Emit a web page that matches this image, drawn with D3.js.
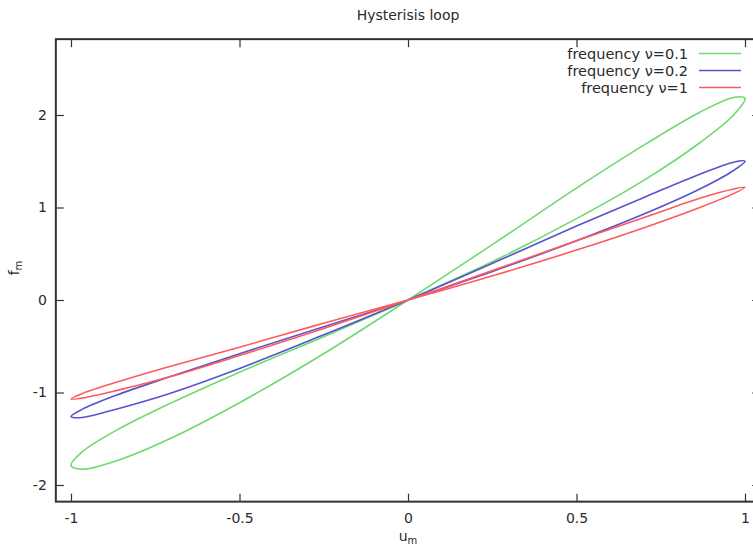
<!DOCTYPE html>
<html>
<head>
<meta charset="utf-8">
<script src="https://cdn.jsdelivr.net/npm/d3@7"></script>
<style>
  html, body { margin: 0; padding: 0; background: #fff; }
  svg { display: block; }
  text { font-family: "DejaVu Sans", sans-serif; fill: #2a2a2a; }
</style>
</head>
<body>
<svg id="chart" width="753" height="552"></svg>
<script>
// ---- data ----
const seriesNames = ["frequency \u03bd=0.1", "frequency \u03bd=0.2", "frequency \u03bd=1"];
const seriesColors = ["#6fd96f", "#5555cc", "#ff5a5a"];

// displacement u_m (shared by the three loops, walking around each loop)
const uValues = [0, 0.259, 0.5, 0.707, 0.866, 0.966, 1, 0.966, 0.866, 0.707, 0.5, 0.259,
                 0, -0.259, -0.5, -0.707, -0.866, -0.966, -1, -0.966, -0.866, -0.707, -0.5, -0.259];
// force f_m for each loop
const fNu01 = [0, 0.62, 1.21, 1.69, 2.03, 2.19, 2.18, 2.00, 1.70, 1.31, 0.88, 0.43,
               0, -0.41, -0.78, -1.12, -1.41, -1.64, -1.79, -1.83, -1.74, -1.50, -1.11, -0.60];
const fNu02 = [0, 0.41, 0.80, 1.12, 1.36, 1.49, 1.50, 1.40, 1.20, 0.94, 0.64, 0.32,
               0, -0.30, -0.58, -0.83, -1.03, -1.18, -1.26, -1.27, -1.18, -1.01, -0.74, -0.39];
const fNu1  = [0, 0.33, 0.64, 0.90, 1.10, 1.20, 1.22, 1.15, 1.00, 0.79, 0.54, 0.27,
               0, -0.26, -0.51, -0.72, -0.89, -1.01, -1.07, -1.06, -0.98, -0.83, -0.60, -0.32];

const xTicks = [-1, -0.5, 0, 0.5, 1];
const yTicks = [-2, -1, 0, 1, 2];
const xRange = [-1.045, 1.045];
const yRange = [-2.18, 2.82];
const title = "Hysterisis loop";

// ---- drawing ----
const svg = d3.select("#chart");
const x = d3.scaleLinear().domain([-1, 1]).range([71, 745]);
const y = d3.scaleLinear().domain([-2, 2]).range([485, 115]);

const pLeft = x(xRange[0]), pRight = x(xRange[1]);
const pTop = y(yRange[1]), pBottom = y(yRange[0]);

// title
svg.append("text").attr("x", 408).attr("y", 19.5).attr("text-anchor", "middle")
  .style("font-size", "14px").text(title);

// curves
const series = [fNu01, fNu02, fNu1];
const line = d3.line().x(d => x(d[0])).y(d => y(d[1])).curve(d3.curveCatmullRomClosed.alpha(0.5));
series.forEach((fs, i) => {
  const pts = uValues.map((u, j) => [u, fs[j]]);
  svg.append("path").attr("d", line(pts)).attr("fill", "none")
    .attr("stroke", seriesColors[i]).attr("stroke-width", 1.6);
});

// axes (ticks inward, gnuplot style)
const fmt = d => String(d);
const gL = svg.append("g").attr("transform", `translate(${pLeft},0)`)
  .call(d3.axisLeft(y).tickValues(yTicks).tickFormat(fmt).tickSize(-8).tickPadding(9));
const gB = svg.append("g").attr("transform", `translate(0,${pBottom})`)
  .call(d3.axisBottom(x).tickValues(xTicks).tickFormat(fmt).tickSize(-8).tickPadding(11));
const gT = svg.append("g").attr("transform", `translate(0,${pTop})`)
  .call(d3.axisTop(x).tickValues(xTicks).tickFormat("").tickSize(-8));
const gR = svg.append("g").attr("transform", `translate(${pRight},0)`)
  .call(d3.axisRight(y).tickValues(yTicks).tickFormat("").tickSize(-8));
[gL, gB, gT, gR].forEach(g => {
  g.select(".domain").remove();
  g.selectAll(".tick line").attr("stroke", "#333").attr("stroke-width", 1.2);
  g.selectAll(".tick text").style("font-size", "14px").style("font-family", "DejaVu Sans, sans-serif").attr("fill", "#2a2a2a");
});

// border
svg.append("rect").attr("x", pLeft).attr("y", pTop).attr("width", pRight - pLeft).attr("height", pBottom - pTop)
  .attr("fill", "none").attr("stroke", "#333").attr("stroke-width", 2);

// axis labels
const xl = svg.append("text").attr("x", 408).attr("y", 541).attr("text-anchor", "middle").style("font-size", "14px");
xl.append("tspan").text("u");
xl.append("tspan").attr("dy", 3).style("font-size", "10px").text("m");

const yl = svg.append("text").attr("transform", "translate(19,268) rotate(-90)").attr("text-anchor", "middle").style("font-size", "14px");
yl.append("tspan").text("f");
yl.append("tspan").attr("dy", 3).style("font-size", "10px").text("m");

// legend
const legendY = [53.5, 70.5, 87.5];
seriesNames.forEach((name, i) => {
  svg.append("text").attr("x", 688).attr("y", legendY[i]).attr("dy", "0.35em")
    .attr("text-anchor", "end").style("font-size", "14.5px").text(name);
  svg.append("line").attr("x1", 699).attr("x2", 741).attr("y1", legendY[i]).attr("y2", legendY[i])
    .attr("stroke", seriesColors[i]).attr("stroke-width", 1.6);
});
</script>
</body>
</html>
